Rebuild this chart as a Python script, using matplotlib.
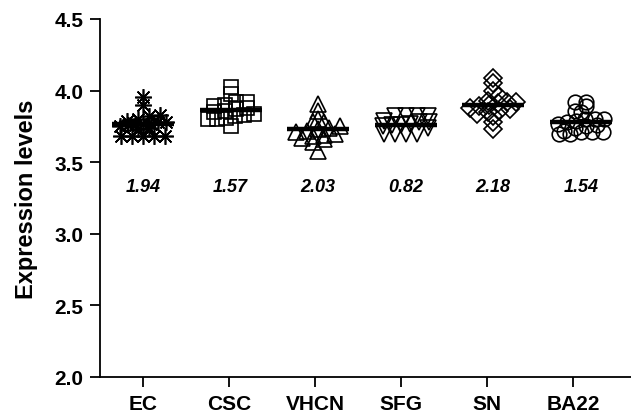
import numpy as np
import matplotlib
matplotlib.use("Agg")
import matplotlib.pyplot as plt

plt.rcParams['font.family'] = ['Liberation Sans', 'DejaVu Sans']

categories = ["EC", "CSC", "VHCN", "SFG", "SN", "BA22"]
annotations = ["1.94", "1.57", "2.03", "0.82", "2.18", "1.54"]

ec = [3.955, 3.90, 3.83, 3.82, 3.80, 3.79, 3.78, 3.78, 3.77, 3.77, 3.76,
      3.76, 3.75, 3.74, 3.73, 3.68, 3.68, 3.68, 3.68, 3.68]
csc = [4.025, 3.976, 3.92, 3.92, 3.80, 3.80, 3.75, 3.90, 3.89, 3.88, 3.87,
       3.86, 3.85, 3.84, 3.83, 3.82, 3.81]
vhcn = [3.906, 3.86, 3.80, 3.78, 3.78, 3.66, 3.64, 3.58, 3.75, 3.74, 3.73,
        3.72, 3.71, 3.70, 3.69, 3.68, 3.67]
sfg = [3.82, 3.82, 3.82, 3.82, 3.70, 3.70, 3.70, 3.70, 3.79, 3.78, 3.78,
       3.77, 3.76, 3.76, 3.75, 3.74]
sn = [4.09, 4.05, 4.00, 3.96, 3.93, 3.92, 3.84, 3.82, 3.78, 3.73, 3.92,
      3.91, 3.90, 3.89, 3.88, 3.87, 3.86, 3.85]
ba22 = [3.92, 3.89, 3.85, 3.80, 3.92, 3.86, 3.80, 3.80, 3.71, 3.71, 3.71,
        3.70, 3.70, 3.72, 3.79, 3.78, 3.77, 3.76, 3.75, 3.74]

groups = [ec, csc, vhcn, sfg, sn, ba22]
markers = [(8, 2, 0), "s", "^", "v", "D", "o"]
msizes = [12, 10.5, 11, 11, 9.5, 10.5]

W, H = 631, 414
fig = plt.figure(figsize=(W / 100, H / 100), dpi=100)
ax = fig.add_axes([100 / W, 36 / H, (W - 100) / W, 358 / H])

ax.set_xlim(-0.5, (W - 143) / 86.0)
ax.set_ylim(2.0, 4.5)

ppu_x = 86.0


def spread(vals, row_h=0.045, step_px=11.0, half_w_px=23.0):
    """Simple column scatter: points in the same value row are spread sideways."""
    vals = np.asarray(vals, float)
    rows = np.round((vals - vals.mean()) / row_h).astype(int)
    dx = np.zeros(len(vals))
    for r in np.unique(rows):
        idx = np.where(rows == r)[0]
        idx = idx[np.argsort(vals[idx])]
        n = len(idx)
        if n == 1:
            continue
        step = min(step_px, 2 * half_w_px / (n - 1))
        dx[idx] = (np.arange(n) - (n - 1) / 2) * step
    return dx / ppu_x


centers = np.arange(len(categories)) * 1.018
for i, vals in enumerate(groups):
    xs = centers[i] + spread(vals)
    ax.plot(xs, vals, linestyle="none", marker=markers[i], markersize=msizes[i],
            markerfacecolor="none", markeredgecolor="black", markeredgewidth=1.2)
    m = np.mean(vals)
    ax.plot([centers[i] - 0.36, centers[i] + 0.36], [m, m], color="black", lw=3.2,
            solid_capstyle="butt")
    ax.text(centers[i], 3.33, annotations[i], ha="center", va="center",
            fontsize=13, fontweight="bold", fontstyle="italic")

ax.spines["top"].set_visible(False)
ax.spines["right"].set_visible(False)
for s in ["left", "bottom"]:
    ax.spines[s].set_linewidth(1.3)

ax.set_xticks(np.arange(len(categories)))
ax.set_xticklabels(categories, fontsize=15, fontweight="bold")
ax.set_yticks(np.arange(2.0, 4.51, 0.5))
ax.set_yticklabels([f"{v:.1f}" for v in np.arange(2.0, 4.51, 0.5)], fontsize=15,
                   fontweight="bold")
ax.tick_params(axis="both", direction="out", length=7, width=1.3, pad=5)
ax.set_ylabel("Expression levels", fontsize=17, fontweight="bold", labelpad=12)

fig.savefig("out.png", dpi=100)
